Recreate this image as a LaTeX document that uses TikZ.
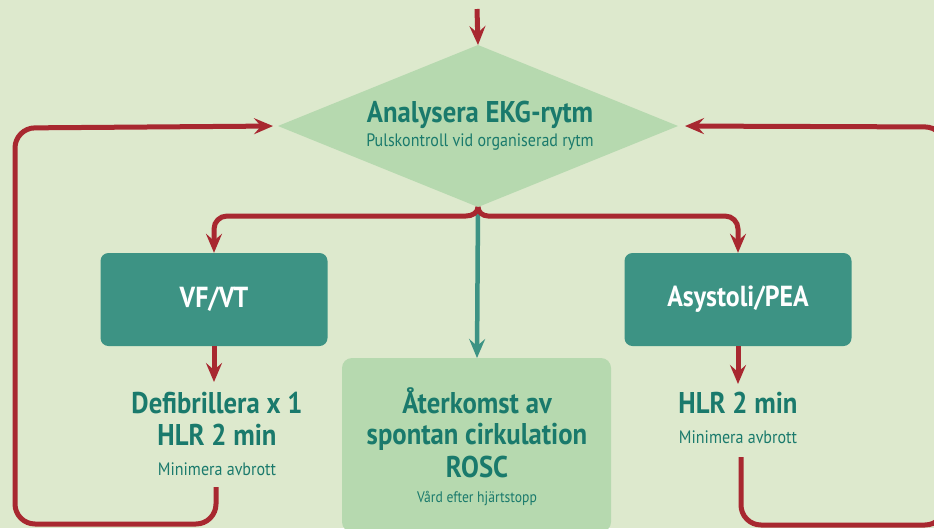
\documentclass[tikz,border=0pt]{standalone}
\usepackage{fontspec}
\setmainfont{PT Sans}[FakeStretch=0.89]
\usetikzlibrary{arrows.meta,shapes.geometric}
\definecolor{bgc}{RGB}{221,233,205}
\definecolor{lgreen}{RGB}{182,217,175}
\definecolor{tealbox}{RGB}{61,147,132}
\definecolor{tealtxt}{RGB}{26,122,108}
\definecolor{redc}{RGB}{168,40,48}
\tikzset{
  redline/.style={draw=redc,line width=5pt},
  redarrow/.style={redline,-{Stealth[length=19pt,width=16pt,inset=7pt]}},
  tealarrow/.style={draw=tealbox,line width=4.5pt,-{Stealth[length=19pt,width=16pt,inset=7pt]}},
  darkbox/.style={fill=tealbox,rounded corners=8pt,minimum width=227pt,minimum height=93pt,inner sep=0pt,text=white,font=\bfseries\fontsize{29}{31}\selectfont},
  bigtxt/.style={text=tealtxt,font=\bfseries\fontsize{30}{32}\selectfont,anchor=base},
  smalltxt/.style={text=tealtxt,font=\fontsize{18}{20}\selectfont,anchor=base},
  tinytxt/.style={text=tealtxt,font=\fontsize{15.3}{17}\selectfont,anchor=base},
}
\begin{document}
\begin{tikzpicture}[x=1pt,y=-1pt]
\fill[bgc] (0,0) rectangle (934,528);
\useasboundingbox (0,0) rectangle (934,528);
\begin{scope}
\clip (0,0) rectangle (934,528);
% ROSC box (runs off bottom)
\fill[lgreen,rounded corners=10pt] (342,358) rectangle (611,532);
\coordinate (roscTop) at (477,358);
% diamond
\node[diamond,fill=lgreen,minimum width=400pt,minimum height=162pt,inner sep=0pt,outer sep=0pt] (dia) at (478,126) {};
\node[bigtxt] (t1) at (480,122) {Analysera EKG-rytm};
\node[smalltxt] (t2) at (480,146) {Pulskontroll vid organiserad rytm};
% boxes
\node[darkbox] (vf) at (214,299.5) {VF/VT};
\node[darkbox] (asy) at (738,299.5) {Asystoli/PEA};
% texts below boxes
\node[bigtxt] (d1) at (217,413) {Defibrillera x 1};
\node[bigtxt] (d2) at (217,445) {HLR 2 min};
\node[smalltxt] (d3) at (217,475) {Minimera avbrott};
\node[bigtxt] (h1) at (738,413) {HLR 2 min};
\node[smalltxt] (h2) at (738,443) {Minimera avbrott};
\node[bigtxt] (r1) at (477,413) {Återkomst av};
\node[bigtxt] (r2) at (477,444) {spontan cirkulation};
\node[bigtxt] (r3) at (477,477) {ROSC};
\node[tinytxt] (r4) at (477,502) {Vård efter hjärtstopp};
% coordinates
\coordinate (topstart) at (477,9);
\coordinate (vfTip) at (214,382);
\coordinate (asyTip) at (738,384);
\coordinate (lstart) at (216,487);
\coordinate (rstart) at (741,457);
% connectors
\draw[redarrow] (topstart) -- (dia.north);
\draw[tealarrow] (dia.south) -- (roscTop);
\draw[redarrow] (dia.south) to[out=-90,in=0] (466,216) -- (227,216) to[out=180,in=90] (214,229) -- (vf.north);
\draw[redarrow] (dia.south) to[out=-90,in=180] (488,216) -- (725,216) to[out=0,in=90] (738,229) -- (asy.north);
\draw[redarrow] (vf.south) -- (vfTip);
\draw[redarrow] (asy.south) -- (asyTip);
\draw[redarrow,rounded corners=20pt,shorten >=5pt] (lstart) -- (216,524) -- (15,524) -- (15,128) -- (dia.west);
\draw[redarrow,rounded corners=20pt,shorten >=7pt] (rstart) -- (741,525) -- (945,525) -- (945,127) -- (dia.east);
\end{scope}
\end{tikzpicture}
\end{document}
